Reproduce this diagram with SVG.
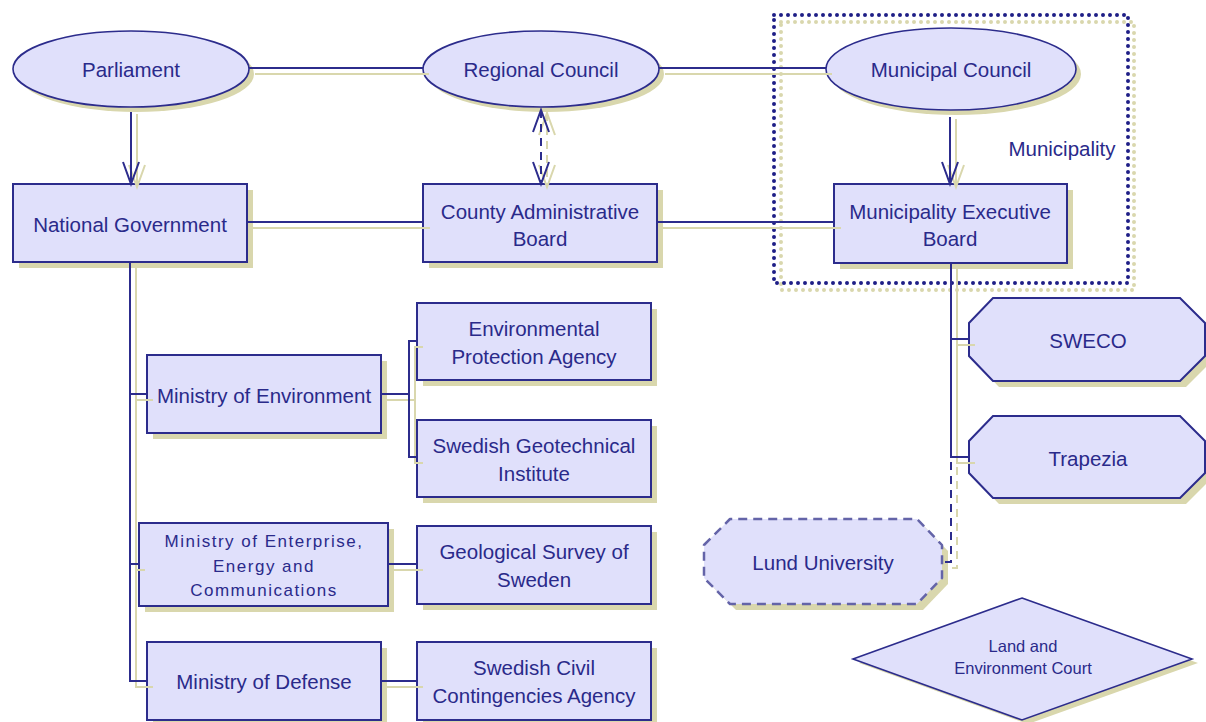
<svg xmlns="http://www.w3.org/2000/svg" width="1206" height="722" viewBox="0 0 1206 722">
  <style>
    .node { fill: #e0e0fb; stroke: #2c2c8c; stroke-width: 2; }
    .ell { fill: #e0e0fb; stroke: #2c2c8c; stroke-width: 1.6; }
    .shadow { fill: #d9d7ad; stroke: none; }
    .lbl { font-family: "Liberation Sans", Arial, sans-serif; font-size: 20.5px; fill: #2a2a8a; text-anchor: middle; dominant-baseline: central; }
    .small { font-size: 17px; letter-spacing: 1.5px; }
    .tiny { font-size: 16.5px; }
    .wire { fill: none; stroke: #2c2c8c; stroke-width: 2; }
    .wire-s { fill: none; stroke: #d9d7ad; stroke-width: 2; }
    .dash { stroke-dasharray: 8 6; }
  </style>
  <defs>
    <marker id="v" markerUnits="userSpaceOnUse" markerWidth="30" markerHeight="24" viewBox="-24 -12 28 24" refX="0" refY="0" orient="auto-start-reverse" overflow="visible">
      <path d="M-22,-8 L0,0 L-22,8" fill="none" stroke="#2c2c8c" stroke-width="2"/>
    </marker>
    <marker id="v-s" markerUnits="userSpaceOnUse" markerWidth="30" markerHeight="24" viewBox="-24 -12 28 24" refX="0" refY="0" orient="auto-start-reverse" overflow="visible">
      <path d="M-22,-8 L0,0 L-22,8" fill="none" stroke="#d9d7ad" stroke-width="2"/>
    </marker>
  </defs>
  <rect width="1206" height="722" fill="#ffffff"/>

  <!-- municipality boundary -->
  <g id="municipality">
    <rect x="781" y="22" width="353" height="268" fill="none" stroke="#d9d7ad" stroke-width="4" stroke-dasharray="0 7" stroke-linecap="round"/>
    <rect x="774" y="15" width="354" height="268" fill="none" stroke="#1e1e86" stroke-width="4" stroke-dasharray="0 7" stroke-linecap="round"/>
    <text class="lbl" x="1062" y="148">Municipality</text>
  </g>

  <!-- nodes -->
  <g id="parliament">
    <ellipse class="shadow" cx="136" cy="74" rx="118" ry="38"/>
    <ellipse class="ell" cx="131" cy="69" rx="118" ry="38"/>
    <text class="lbl" x="131" y="69">Parliament</text>
  </g>
  <g id="regional-council">
    <ellipse class="shadow" cx="546" cy="74" rx="118" ry="38"/>
    <ellipse class="ell" cx="541" cy="69" rx="118" ry="38"/>
    <text class="lbl" x="541" y="69">Regional Council</text>
  </g>
  <g id="municipal-council">
    <ellipse class="shadow" cx="956" cy="74" rx="125" ry="41"/>
    <ellipse class="ell" cx="951" cy="69" rx="125" ry="41"/>
    <text class="lbl" x="951" y="69">Municipal Council</text>
  </g>
  <g id="national-government">
    <rect class="shadow" x="19" y="190" width="234" height="78"/>
    <rect class="node" x="13" y="184" width="234" height="78"/>
    <text class="lbl" x="130" y="224">National Government</text>
  </g>
  <g id="county-board">
    <rect class="shadow" x="429" y="190" width="234" height="78"/>
    <rect class="node" x="423" y="184" width="234" height="78"/>
    <text class="lbl" x="540" y="211">County Administrative</text>
    <text class="lbl" x="540" y="238">Board</text>
  </g>
  <g id="municipality-board">
    <rect class="shadow" x="840" y="190" width="233" height="79"/>
    <rect class="node" x="834" y="184" width="233" height="79"/>
    <text class="lbl" x="950" y="211">Municipality Executive</text>
    <text class="lbl" x="950" y="238">Board</text>
  </g>
  <g id="ministry-environment">
    <rect class="shadow" x="153" y="361" width="234" height="78"/>
    <rect class="node" x="147" y="355" width="234" height="78"/>
    <text class="lbl" x="264" y="395">Ministry of Environment</text>
  </g>
  <g id="epa">
    <rect class="shadow" x="423" y="309" width="234" height="77"/>
    <rect class="node" x="417" y="303" width="234" height="77"/>
    <text class="lbl" x="534" y="328">Environmental</text>
    <text class="lbl" x="534" y="356">Protection Agency</text>
  </g>
  <g id="sgi">
    <rect class="shadow" x="423" y="426" width="234" height="77"/>
    <rect class="node" x="417" y="420" width="234" height="77"/>
    <text class="lbl" x="534" y="445">Swedish Geotechnical</text>
    <text class="lbl" x="534" y="473">Institute</text>
  </g>
  <g id="ministry-enterprise">
    <rect class="shadow" x="145" y="529" width="249" height="83"/>
    <rect class="node" x="139" y="523" width="249" height="83"/>
    <text class="lbl small" x="264" y="541">Ministry of Enterprise,</text>
    <text class="lbl small" x="264" y="566">Energy and</text>
    <text class="lbl small" x="264" y="590">Communications</text>
  </g>
  <g id="sgu">
    <rect class="shadow" x="423" y="532" width="234" height="78"/>
    <rect class="node" x="417" y="526" width="234" height="78"/>
    <text class="lbl" x="534" y="551">Geological Survey of</text>
    <text class="lbl" x="534" y="579">Sweden</text>
  </g>
  <g id="ministry-defense">
    <rect class="shadow" x="153" y="648" width="234" height="78"/>
    <rect class="node" x="147" y="642" width="234" height="78"/>
    <text class="lbl" x="264" y="681">Ministry of Defense</text>
  </g>
  <g id="msb">
    <rect class="shadow" x="423" y="648" width="234" height="78"/>
    <rect class="node" x="417" y="642" width="234" height="78"/>
    <text class="lbl" x="534" y="667">Swedish Civil</text>
    <text class="lbl" x="534" y="695">Contingencies Agency</text>
  </g>
  <g id="sweco">
    <polygon class="shadow" points="975,329 999,304 1186,304 1211,329 1211,362 1186,387 999,387 975,362"/>
    <polygon class="node" points="969,323 993,298 1180,298 1205,323 1205,356 1180,381 993,381 969,356"/>
    <text class="lbl" x="1088" y="340">SWECO</text>
  </g>
  <g id="trapezia">
    <polygon class="shadow" points="975,447 999,422 1186,422 1211,447 1211,479 1186,504 999,504 975,479"/>
    <polygon class="node" points="969,441 993,416 1180,416 1205,441 1205,473 1180,498 993,498 969,473"/>
    <text class="lbl" x="1088" y="458">Trapezia</text>
  </g>
  <g id="lund-university">
    <polygon class="shadow" points="710,551 736,525 923,525 948,551 948,584 923,610 736,610 710,584" stroke="#d9d7ad" stroke-width="2" stroke-linejoin="round"/>
    <polygon points="704,545 730,519 917,519 942,545 942,578 917,604 730,604 704,578" fill="#e0e0fb" stroke="#6464a8" stroke-width="2.5" stroke-dasharray="9 6" stroke-linejoin="round"/>
    <text class="lbl" x="823" y="562">Lund University</text>
  </g>
  <g id="land-environment-court">
    <polygon class="shadow" points="1028,602 1198,663 1028,724 859,663"/>
    <polygon class="ell" points="1022,598 1192,659 1022,720 853,659"/>
    <text class="lbl tiny" x="1023" y="646">Land and</text>
    <text class="lbl tiny" x="1023" y="668">Environment Court</text>
  </g>

  <!-- connectors: khaki offset copy first, then the navy line -->
  <g id="connectors">
    <!-- top row -->
    <path class="wire-s" d="M255,74 H429 M665,74 H832"/>
    <path class="wire" d="M249,68 H423 M659,68 H826"/>
    <!-- middle row -->
    <path class="wire-s" d="M253,228 H430 M663,228 H841"/>
    <path class="wire" d="M247,222 H423 M657,222 H834"/>
    <!-- Parliament to National Government -->
    <path class="wire-s" d="M137,114 V187" marker-end="url(#v-s)"/>
    <path class="wire" d="M131,112 V184" marker-end="url(#v)"/>
    <!-- Municipal Council to Executive Board -->
    <path class="wire-s" d="M956,119 V187" marker-end="url(#v-s)"/>
    <path class="wire" d="M950,117 V184" marker-end="url(#v)"/>
    <!-- Regional Council and County Administrative Board -->
    <path class="wire-s dash" d="M547,113 V187" marker-start="url(#v-s)" marker-end="url(#v-s)"/>
    <path class="wire dash" d="M541,110 V184" marker-start="url(#v)" marker-end="url(#v)"/>
    <!-- National Government to ministries -->
    <path class="wire-s" d="M136,268 V687 H153 M136,400 H153 M136,570 H145"/>
    <path class="wire" d="M130,262 V681 H147 M130,394 H147 M130,564 H139"/>
    <!-- Ministry of Environment to agencies -->
    <path class="wire-s" d="M387,400 H415 M423,347 H415 V463 H423"/>
    <path class="wire" d="M381,394 H409 M417,341 H409 V457 H417"/>
    <!-- Ministry of Enterprise and Ministry of Defense to agencies -->
    <path class="wire-s" d="M394,570 H423 M387,687 H423"/>
    <path class="wire" d="M388,564 H417 M381,681 H417"/>
    <!-- Executive Board to consultants -->
    <path class="wire-s" d="M957,269 V463 H975 M957,345 H975"/>
    <path class="wire" d="M951,263 V457 H969 M951,339 H969"/>
    <!-- Executive Board to Lund University -->
    <path class="wire-s dash" d="M957,467 V568 H948"/>
    <path class="wire dash" d="M951,462 V562 H942"/>
  </g>
</svg>
